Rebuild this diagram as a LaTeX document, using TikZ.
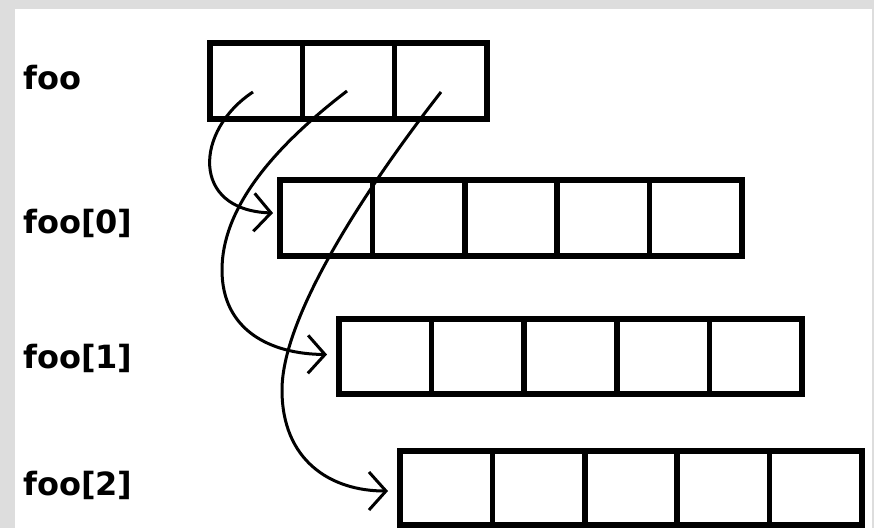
\documentclass[tikz,border=0pt]{standalone}
\usepackage{fontspec}
\newfontfamily\labfont{DejaVu Sans}
\usetikzlibrary{arrows.meta}
\definecolor{bggray}{RGB}{221,221,221}
\tikzset{
  cell/.style={draw=black, line width=5.5pt, inner sep=0pt, outer sep=0pt, fill=none},
  lab/.style={anchor=base west, inner sep=0pt, font=\labfont\bfseries\fontsize{32}{36}\selectfont},
  ptr/.style={line width=3pt, -{Straight Barb[length=17pt, width=38pt, line width=3pt]}}
}
\begin{document}
\begin{tikzpicture}[x=1pt, y=-1pt]
\fill[bggray] (0,0) rectangle (874,528);
\fill[white] (15,9) rectangle (872,528);
\useasboundingbox (0,0) rectangle (874,528);
% top row foo
\foreach \i in {1,2,3} {
  \node[cell, minimum width=92.3pt, minimum height=76pt] (t\i) at ({210+(\i-0.5)*92.3}, 81) {};
}
% foo[0]
\foreach \i in {1,...,5} {
  \node[cell, minimum width=92.4pt, minimum height=76pt] (a\i) at ({280+(\i-0.5)*92.4}, 218) {};
}
% foo[1]
\foreach \i in {1,...,5} {
  \node[cell, minimum width=92.6pt, minimum height=75pt] (b\i) at ({339+(\i-0.5)*92.6}, 356.5) {};
}
% foo[2]
\foreach \i in {1,...,5} {
  \node[cell, minimum width=92.4pt, minimum height=74pt] (c\i) at ({400+(\i-0.5)*92.4}, 488) {};
}
% labels
\node[lab] (lfoo) at (23,89) {foo};
\node[lab] (lfoo0) at (23,233) {foo[0]};
\node[lab] (lfoo1) at (23,368) {foo[1]};
\node[lab] (lfoo2) at (23,495) {foo[2]};
% pointer starts
\coordinate (s1) at (253,92);
\coordinate (s2) at (347,91);
\coordinate (s3) at (441,92);
% pointers
\draw[ptr] (s1) .. controls (195,130) and (190,210) .. ([shift={(-7,-5)}]a1.west);
\draw[ptr] (s2) .. controls (270,150) and (222,210) .. (222,270)
  .. controls (222,330) and (270,354) .. ([shift={(-12,-2)}]b1.west);
\draw[ptr] (s3) .. controls (380,170) and (282,310) .. (282,390)
  .. controls (282,460) and (330,491) .. ([shift={(-12,3)}]c1.west);
\end{tikzpicture}
\end{document}
